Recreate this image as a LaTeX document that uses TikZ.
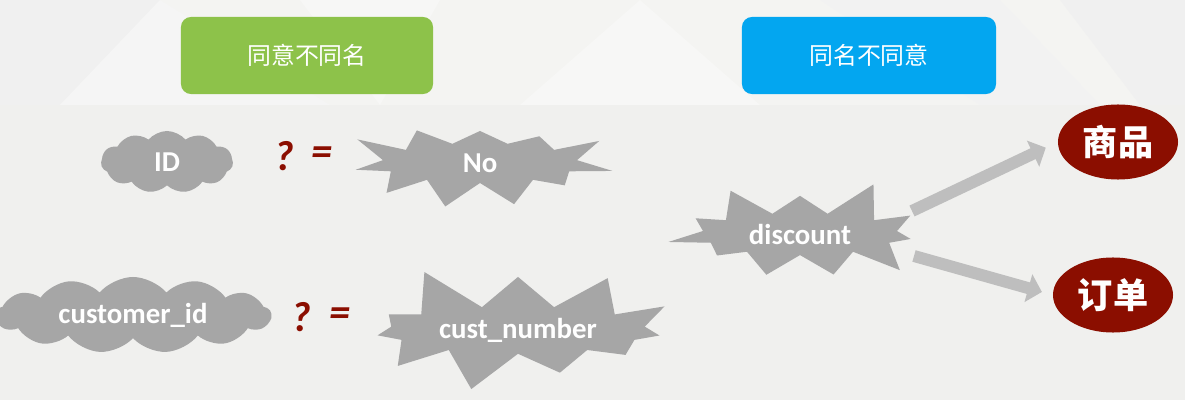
\documentclass[tikz,border=0pt]{standalone}
\usepackage{fontspec}
\setmainfont{Carlito}
\newfontfamily\cjk{Noto Sans CJK SC}
\usepackage{xcolor}
\usepackage{tikz}
\usetikzlibrary{shapes.symbols, shapes.geometric, arrows.meta}
\definecolor{bggray}{RGB}{240,240,238}
\definecolor{bandgray}{RGB}{244,244,242}
\definecolor{lgreen}{RGB}{141,194,74}
\definecolor{lblue}{RGB}{3,166,240}
\definecolor{shapegray}{RGB}{166,166,166}
\definecolor{darkred}{RGB}{139,14,0}
\definecolor{arrowgray}{RGB}{190,190,190}
\tikzset{title/.style={rounded corners=0.25cm, minimum width=6.3cm, minimum height=1.925cm,
		text=white, font=\cjk\fontsize{17}{20}\selectfont},
	puff/.style={cloud, cloud puffs=11, cloud puff arc=100, cloud ignores aspect, fill=shapegray,
		text=white, font=\bfseries\fontsize{20.5}{24}\selectfont},
	burst/.style={starburst, starburst points=11, starburst point height=0.95cm, fill=shapegray,
		text=white, font=\bfseries\fontsize{20.5}{24}\selectfont},
	entity/.style={ellipse, fill=darkred, minimum width=3cm, minimum height=1.875cm,
		text=white, font=\cjk\bfseries\fontsize{25}{28}\selectfont},
	qmark/.style={text=darkred, font=\bfseries\itshape\fontsize{30}{30}\selectfont},
	bigarrow/.style={draw=arrowgray, line width=8.5pt, -{Triangle[width=20pt,length=10pt]}}}

\begin{document}
\begin{tikzpicture}
	[x=0.025cm, y=-0.025cm]
	\useasboundingbox (0,0) rectangle (1185,400);
	% background
	\fill[bggray] (0,0) rectangle (1185,400);
	\fill[bandgray] (0,0) rectangle (1185,105);
	\fill[black!6] (0,0) -- (160,0) -- (60,105) -- (0,105) -- cycle;
	\fill[black!4] (160,0) -- (330,105) -- (60,105) -- cycle;
	\fill[white!30!bandgray] (520,105) -- (640,0) -- (760,105) -- cycle;
	\fill[black!5] (820,0) -- (1000,0) -- (1100,105) -- (980,105) -- cycle;
	\fill[black!6] (1060,0) -- (1185,0) -- (1185,105) -- (1140,105) -- cycle;
	\fill[white!30!bandgray] (300,0) -- (440,0) -- (380,105) -- cycle;

	\node[title, fill=lgreen] (same) at (307,55.5) {同意不同名};
	\node[title, fill=lblue, minimum width=6.35cm] (diff) at (869,55.5) {同名不同意};

	\node[puff, minimum width=3.3cm, minimum height=1.55cm] (id) at (167,162) {ID};
	\node[qmark] (q1) at (284,156) {?};
	\node[qmark] (eq1) at (322,156) {=};
	\node[burst, minimum width=6.8cm, minimum height=2.3cm, random starburst=3] (no) at (480,163) {No};

	\node[puff, cloud puffs=13, minimum width=6.9cm, minimum height=1.9cm] (cid) at (133,315) {customer\_id};
	\node[qmark] (q2) at (301,317) {?};
	\node[qmark] (eq2) at (340,317) {=};
	\node[burst, minimum width=8.8cm, minimum height=3cm, starburst point height=1.2cm,
		random starburst=5] (cnum) at (518,330) {cust\_number};

	\node[burst, minimum width=6.8cm, minimum height=2.3cm, random starburst=9] (disc) at (800,234) {discount};
	\node[entity] (goods) at (1118,142) {商品};
	\node[entity] (order) at (1113,295) {订单};

	\coordinate (d1) at (912,211);
	\coordinate (d2) at (914,256);
	\draw[bigarrow, shorten >=0.33cm] (d1) -- (goods.west);
	\draw[bigarrow, shorten >=0.28cm] (d2) -- (order.west);
\end{tikzpicture}
\end{document}
